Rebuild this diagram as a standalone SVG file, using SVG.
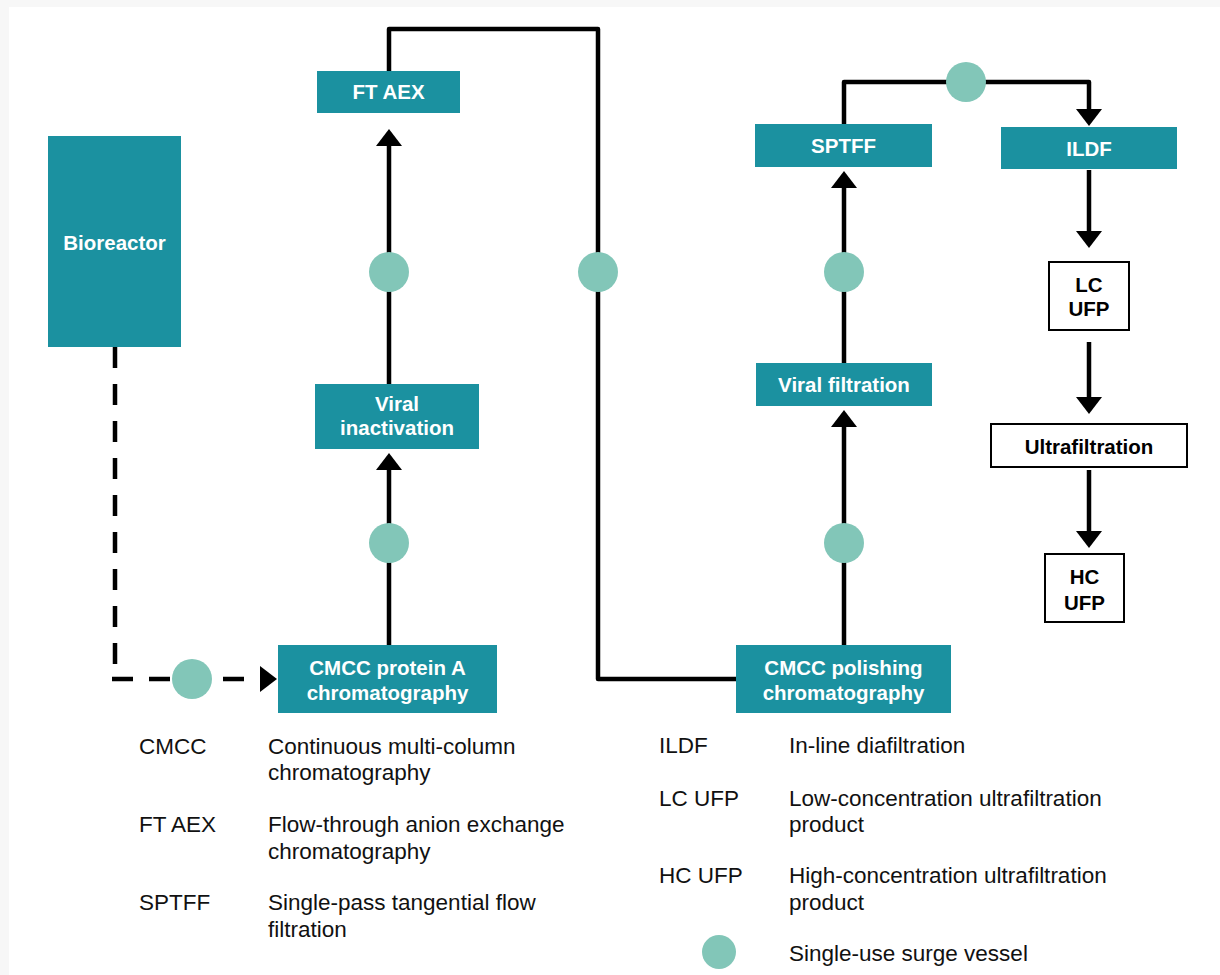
<svg xmlns="http://www.w3.org/2000/svg" width="1220" height="975" viewBox="0 0 1220 975">
<style>
.box{fill:#1b91a0}
.wbox{fill:#ffffff;stroke:#000000;stroke-width:2}
.nt{font-family:"Liberation Sans",Arial,sans-serif;font-weight:bold;font-size:20.5px;fill:#ffffff;text-anchor:middle}
.bt{font-family:"Liberation Sans",Arial,sans-serif;font-weight:bold;font-size:20.5px;fill:#000000;text-anchor:middle}
.lt{font-family:"Liberation Sans",Arial,sans-serif;font-size:22.5px;fill:#111111}
.ln{fill:none;stroke:#000000;stroke-width:4.5;stroke-linejoin:round}
.dash{fill:none;stroke:#000000;stroke-width:4.5;stroke-dasharray:21 16}
.sv{fill:#82c6b8}
</style>
<defs>
<marker id="ah" viewBox="0 0 17 26" refX="1" refY="13" markerWidth="17" markerHeight="26" markerUnits="userSpaceOnUse" orient="auto">
<path d="M0,0 L17,13 L0,26 Z" fill="#000000"/>
</marker>
</defs>
<rect x="0" y="0" width="1220" height="975" fill="#f7f7f7"/>
<rect x="9" y="7" width="1211" height="968" fill="#ffffff"/>

<g id="connectors">
<path class="dash" d="M115,347 L115,679"/>
<path class="dash" d="M112,679 L261,679" marker-end="url(#ah)"/>
<path class="ln" d="M389,645 L389,469" marker-end="url(#ah)"/>
<path class="ln" d="M389,384 L389,145" marker-end="url(#ah)"/>
<path class="ln" d="M389,71 L389,29 L598,29 L598,679 L736,679"/>
<path class="ln" d="M844,645 L844,426" marker-end="url(#ah)"/>
<path class="ln" d="M844,363 L844,187" marker-end="url(#ah)"/>
<path class="ln" d="M844,124 L844,82 L1089,82 L1089,110" marker-end="url(#ah)"/>
<path class="ln" d="M1089,170 L1089,232" marker-end="url(#ah)"/>
<path class="ln" d="M1089,342 L1089,398" marker-end="url(#ah)"/>
<path class="ln" d="M1089,470 L1089,532" marker-end="url(#ah)"/>
</g>

<g id="vessels">
<circle class="sv" cx="192" cy="679" r="20"/>
<circle class="sv" cx="389" cy="543" r="20"/>
<circle class="sv" cx="389" cy="272" r="20"/>
<circle class="sv" cx="598" cy="272" r="20"/>
<circle class="sv" cx="844" cy="543" r="20"/>
<circle class="sv" cx="844" cy="272" r="20"/>
<circle class="sv" cx="966" cy="82" r="20"/>
</g>

<g id="bioreactor">
<rect class="box" x="48" y="136" width="133" height="211"/>
<text class="nt" x="114.5" y="250">Bioreactor</text>
</g>
<g id="ftaex">
<rect class="box" x="317" y="71" width="143" height="42"/>
<text class="nt" x="388.5" y="99">FT AEX</text>
</g>
<g id="viral-inactivation">
<rect class="box" x="315" y="384" width="164" height="65"/>
<text class="nt" x="397" y="411">Viral</text>
<text class="nt" x="397" y="435">inactivation</text>
</g>
<g id="cmcc-protein-a">
<rect class="box" x="278" y="645" width="219" height="68"/>
<text class="nt" x="387.5" y="675">CMCC protein A</text>
<text class="nt" x="387.5" y="700">chromatography</text>
</g>
<g id="cmcc-polishing">
<rect class="box" x="736" y="645" width="215" height="68"/>
<text class="nt" x="843.5" y="675">CMCC polishing</text>
<text class="nt" x="843.5" y="700">chromatography</text>
</g>
<g id="viral-filtration">
<rect class="box" x="756" y="363" width="176" height="43"/>
<text class="nt" x="844" y="392">Viral filtration</text>
</g>
<g id="sptff">
<rect class="box" x="755" y="124" width="177" height="43"/>
<text class="nt" x="843.5" y="153">SPTFF</text>
</g>
<g id="ildf">
<rect class="box" x="1001" y="127" width="176" height="42"/>
<text class="nt" x="1089" y="156">ILDF</text>
</g>
<g id="lc-ufp">
<rect class="wbox" x="1049" y="262" width="80" height="68"/>
<text class="bt" x="1089" y="292">LC</text>
<text class="bt" x="1089" y="316">UFP</text>
</g>
<g id="ultrafiltration">
<rect class="wbox" x="991" y="424" width="196" height="43"/>
<text class="bt" x="1089" y="454">Ultrafiltration</text>
</g>
<g id="hc-ufp">
<rect class="wbox" x="1045" y="554" width="79" height="68"/>
<text class="bt" x="1084.5" y="584">HC</text>
<text class="bt" x="1084.5" y="610">UFP</text>
</g>

<g id="legend">
<text class="lt" x="139" y="754">CMCC</text>
<text class="lt" x="268" y="754">Continuous multi-column</text>
<text class="lt" x="268" y="780">chromatography</text>
<text class="lt" x="139" y="832">FT AEX</text>
<text class="lt" x="268" y="832">Flow-through anion exchange</text>
<text class="lt" x="268" y="859">chromatography</text>
<text class="lt" x="139" y="910">SPTFF</text>
<text class="lt" x="268" y="910">Single-pass tangential flow</text>
<text class="lt" x="268" y="937">filtration</text>
<text class="lt" x="659" y="753">ILDF</text>
<text class="lt" x="789" y="753">In-line diafiltration</text>
<text class="lt" x="659" y="806">LC UFP</text>
<text class="lt" x="789" y="806">Low-concentration ultrafiltration</text>
<text class="lt" x="789" y="832">product</text>
<text class="lt" x="659" y="883">HC UFP</text>
<text class="lt" x="789" y="883">High-concentration ultrafiltration</text>
<text class="lt" x="789" y="910">product</text>
<circle class="sv" cx="719" cy="952" r="17"/>
<text class="lt" x="789" y="961">Single-use surge vessel</text>
</g>
</svg>
